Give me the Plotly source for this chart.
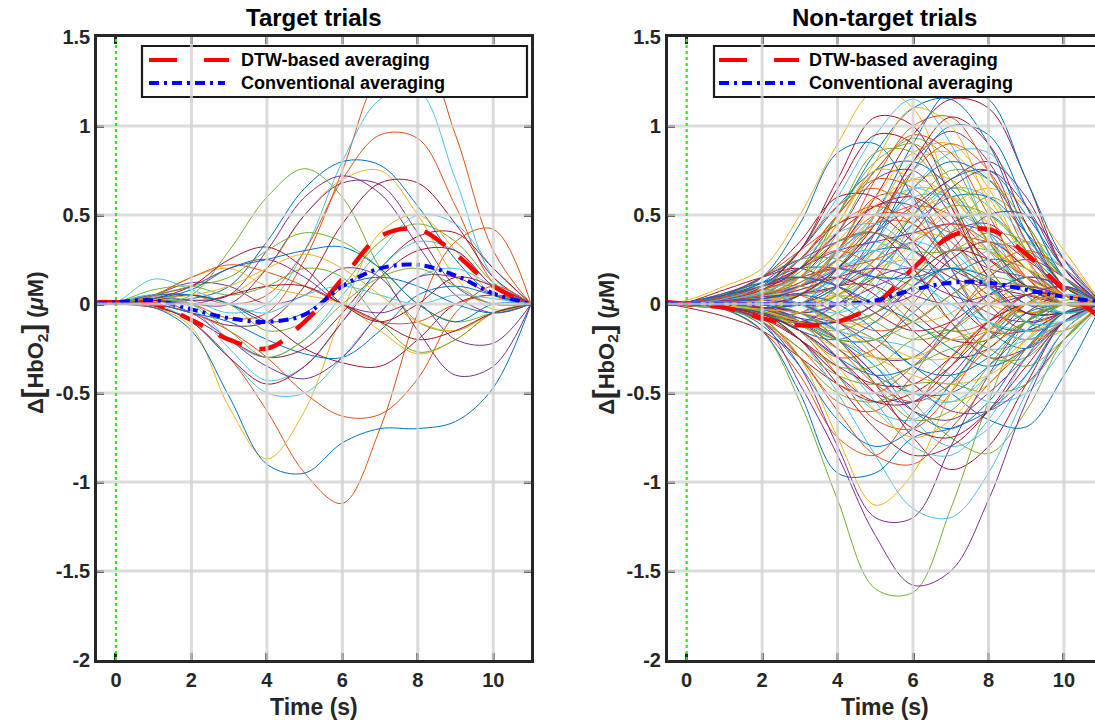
import plotly.graph_objects as go

# ---------------- data ----------------
time_s = [-0.5, 0, 1, 2, 3, 4, 5, 6, 7, 8, 9, 10, 11]

matlab_colors = ['#0072BD', '#D95319', '#EDB120', '#7E2F8E', '#77AC30', '#4DBEEE', '#A2142F']

target_trials = [
    [0, 0.01, 0.02, 0.0, -0.08, -0.05, 0.25, 0.75, 1.3, 1.45, 0.95, 0.3, 0.0],
    [0, 0.0, 0.03, 0.02, -0.05, 0.0, 0.3, 0.8, 1.15, 1.2, 0.7, 0.15, 0.0],
    [0, 0.01, 0.05, 0.05, 0.0, 0.05, 0.3, 0.7, 0.95, 0.93, 0.55, 0.12, 0.0],
    [0, 0.0, 0.02, 0.03, 0.1, 0.35, 0.65, 0.8, 0.78, 0.55, 0.25, 0.05, 0.0],
    [0, 0.0, 0.01, 0.05, 0.3, 0.6, 0.76, 0.6, 0.2, -0.1, -0.15, -0.05, 0.0],
    [0, 0.01, 0.03, 0.02, 0.05, 0.2, 0.5, 0.7, 0.75, 0.5, 0.15, -0.03, 0.0],
    [0, 0.0, 0.04, 0.02, 0.05, 0.3, 0.6, 0.72, 0.62, 0.33, 0.05, -0.05, 0.0],
    [0, 0.0, 0.02, 0.0, 0.0, 0.2, 0.5, 0.68, 0.67, 0.4, 0.1, 0.0, 0.0],
    [0, 0.0, 0.0, -0.05, -0.12, -0.1, 0.1, 0.45, 0.68, 0.68, 0.45, 0.15, 0.0],
    [0, 0.01, 0.05, 0.0, -0.2, -0.3, -0.2, 0.05, 0.3, 0.5, 0.45, 0.2, 0.0],
    [0, 0.0, 0.03, 0.05, 0.0, -0.15, -0.1, 0.1, 0.35, 0.45, 0.35, 0.12, 0.0],
    [0, 0.0, -0.02, -0.08, -0.2, -0.3, -0.25, -0.05, 0.2, 0.38, 0.4, 0.2, 0.0],
    [0, 0.0, -0.01, -0.1, -0.3, -0.6, -0.95, -1.12, -0.7, -0.05, 0.35, 0.42, 0.0],
    [0, 0.0, 0.0, -0.05, -0.15, -0.3, -0.5, -0.63, -0.62, -0.42, -0.05, 0.1, 0.0],
    [0, 0.0, -0.02, -0.13, -0.58, -0.87, -0.6, -0.05, 0.4, 0.5, 0.3, 0.05, 0.0],
    [0, 0.0, -0.02, -0.15, -0.52, -0.9, -0.95, -0.78, -0.7, -0.7, -0.66, -0.47, 0.0],
    [0, 0.0, 0.0, -0.1, -0.3, -0.5, -0.5, -0.3, -0.05, 0.15, 0.2, 0.1, 0.0],
    [0, 0.01, 0.05, -0.02, -0.25, -0.43, -0.35, -0.1, 0.2, 0.35, 0.3, 0.1, 0.0],
    [0, 0.0, -0.01, -0.1, -0.3, -0.45, -0.35, -0.1, 0.15, 0.3, 0.3, 0.1, 0.0],
    [0, 0.0, 0.02, -0.05, -0.2, -0.35, -0.42, -0.3, -0.05, 0.15, 0.15, 0.05, 0.0],
    [0, 0.0, 0.02, 0.05, 0.0, -0.1, -0.25, -0.33, -0.35, -0.2, 0.0, 0.05, 0.0],
    [0, 0.0, 0.0, -0.05, -0.1, -0.2, -0.28, -0.3, -0.15, 0.05, 0.1, 0.05, 0.0],
    [0, 0.0, 0.05, 0.12, 0.1, 0.0, 0.05, 0.2, 0.15, -0.15, -0.4, -0.35, 0.0],
    [0, 0.0, 0.05, 0.15, 0.2, 0.1, 0.05, 0.0, -0.15, -0.28, -0.2, -0.05, 0.0],
    [0, 0.01, 0.08, 0.1, 0.05, 0.1, 0.2, 0.15, -0.1, -0.27, -0.2, -0.05, 0.0],
    [0, 0.0, 0.05, 0.1, 0.2, 0.25, 0.15, 0.0, -0.05, 0.0, -0.2, -0.22, 0.0],
    [0, 0.0, 0.03, 0.1, 0.25, 0.32, 0.2, 0.0, -0.1, 0.0, 0.15, 0.1, 0.0],
    [0, 0.0, 0.05, 0.15, 0.22, 0.18, 0.1, 0.0, -0.1, -0.1, 0.0, 0.05, 0.0],
    [0, 0.01, 0.14, 0.08, 0.0, -0.05, 0.05, 0.1, 0.05, 0.0, 0.05, 0.03, 0.0],
    [0, 0.0, 0.03, 0.05, 0.1, 0.2, 0.28, 0.2, 0.05, -0.1, -0.15, -0.05, 0.0],
    [0, 0.0, 0.02, 0.0, -0.15, -0.3, -0.2, 0.0, 0.15, 0.2, 0.1, 0.0, 0.0],
    [0, 0.0, 0.05, 0.05, 0.0, -0.1, -0.05, 0.1, 0.15, 0.1, 0.0, -0.05, 0.0],
    [0, 0.0, 0.05, 0.1, 0.15, 0.3, 0.4, 0.35, 0.2, 0.0, -0.1, -0.05, 0.0],
    [0, 0.0, 0.03, 0.08, 0.2, 0.25, 0.3, 0.32, 0.2, 0.0, -0.1, 0.0, 0.0],
    [0, 0.0, 0.02, 0.0, 0.05, 0.1, 0.1, 0.0, -0.1, -0.2, -0.15, -0.05, 0.0],
]
target_colors = [1, 5, 1, 0, 4, 2, 3, 3, 6, 5, 4, 6, 1, 1, 2, 0, 5, 5, 6, 3,
                 6, 0, 3, 2, 4, 3, 6, 1, 5, 2, 4, 0, 4, 0, 6]

nontarget_trials = [
    [0, 0.02, 0.1, 0.2, 0.5, 0.9, 1.2, 1.1, 0.6, 0.1, -0.1, -0.05, 0],
    [0, 0.01, 0.05, 0.1, 0.3, 0.7, 1.05, 1.0, 0.6, 0.2, 0.0, 0.0, 0],
    [0, 0, 0.02, 0.05, 0.2, 0.5, 0.85, 1.1, 1.15, 0.9, 0.4, 0.1, 0],
    [0, 0, 0.0, 0.0, 0.1, 0.3, 0.6, 0.95, 1.15, 1.1, 0.7, 0.2, 0],
    [0, 0.01, 0.05, 0.15, 0.45, 0.85, 0.9, 0.6, 0.2, -0.1, -0.15, -0.05, 0],
    [0, 0, 0.02, 0.05, 0.1, 0.4, 0.75, 0.93, 0.8, 0.4, 0.05, -0.05, 0],
    [0, 0, 0.0, -0.05, -0.05, 0.1, 0.4, 0.8, 0.97, 0.8, 0.35, 0.05, 0],
    [0, 0, 0.03, 0.08, 0.2, 0.45, 0.8, 1.1, 1.0, 0.55, 0.1, -0.05, 0],
    [0, 0, 0.01, 0.0, 0.0, 0.2, 0.5, 0.9, 1.2, 1.15, 0.7, 0.25, 0],
    [0, 0.01, 0.04, 0.1, 0.3, 0.6, 0.95, 1.15, 0.9, 0.4, 0.05, -0.05, 0],
    [0, 0, 0.0, 0.02, 0.1, 0.3, 0.7, 1.0, 1.05, 0.75, 0.3, 0.05, 0],
    [0, 0, 0.02, 0.05, 0.15, 0.5, 0.85, 0.85, 0.55, 0.2, 0.0, 0.0, 0],
    [0, 0, 0.03, 0.1, 0.3, 0.55, 0.65, 0.5, 0.25, 0.05, -0.05, 0.0, 0],
    [0, 0, 0.0, 0.0, 0.05, 0.25, 0.5, 0.7, 0.7, 0.45, 0.15, 0.0, 0],
    [0, 0.01, 0.05, 0.1, 0.2, 0.4, 0.7, 0.75, 0.5, 0.15, -0.1, -0.05, 0],
    [0, 0, 0.02, 0.02, 0.0, 0.1, 0.3, 0.55, 0.75, 0.7, 0.45, 0.15, 0],
    [0, 0, -0.02, -0.05, 0.0, 0.15, 0.4, 0.6, 0.6, 0.4, 0.2, 0.05, 0],
    [0, 0.01, 0.06, 0.15, 0.35, 0.6, 0.6, 0.35, 0.05, -0.15, -0.15, -0.05, 0],
    [0, 0, 0.0, 0.0, -0.05, 0.0, 0.2, 0.5, 0.7, 0.75, 0.5, 0.2, 0],
    [0, 0, 0.03, 0.08, 0.25, 0.5, 0.7, 0.65, 0.4, 0.1, -0.05, 0.0, 0],
    [0, 0, 0.01, 0.0, 0.05, 0.2, 0.45, 0.65, 0.6, 0.35, 0.1, 0.0, 0],
    [0, 0, 0.02, 0.05, 0.1, 0.3, 0.55, 0.55, 0.35, 0.2, 0.15, 0.05, 0],
    [0, 0.01, 0.04, 0.05, 0.0, 0.05, 0.25, 0.5, 0.65, 0.55, 0.3, 0.1, 0],
    [0, 0, 0.0, -0.03, -0.1, -0.1, 0.1, 0.45, 0.65, 0.6, 0.35, 0.1, 0],
    [0, 0, 0.02, 0.1, 0.25, 0.45, 0.5, 0.35, 0.2, 0.1, 0.05, 0.0, 0],
    [0, 0, 0.01, 0.02, 0.05, 0.1, 0.25, 0.45, 0.6, 0.6, 0.4, 0.15, 0],
    [0, 0, 0.05, 0.15, 0.3, 0.45, 0.55, 0.45, 0.25, 0.05, -0.05, -0.05, 0],
    [0, 0, 0.0, 0.0, 0.0, 0.05, 0.15, 0.35, 0.55, 0.65, 0.55, 0.3, 0],
    [0, 0.01, 0.05, 0.1, 0.15, 0.2, 0.15, 0.05, 0.0, 0.05, 0.1, 0.05, 0],
    [0, 0, 0.02, 0.0, -0.1, -0.15, -0.05, 0.15, 0.3, 0.3, 0.15, 0.05, 0],
    [0, 0, -0.02, -0.05, -0.1, 0.0, 0.2, 0.35, 0.25, 0.0, -0.15, -0.1, 0],
    [0, 0.01, 0.08, 0.15, 0.2, 0.1, -0.05, -0.15, -0.1, 0.05, 0.15, 0.1, 0],
    [0, 0, 0.03, 0.05, 0.05, 0.15, 0.3, 0.3, 0.1, -0.15, -0.25, -0.1, 0],
    [0, 0, 0.0, -0.05, -0.15, -0.3, -0.25, 0.0, 0.25, 0.35, 0.2, 0.05, 0],
    [0, 0, 0.02, 0.05, 0.0, -0.1, -0.1, 0.05, 0.2, 0.15, -0.05, -0.1, 0],
    [0, -0.01, -0.03, -0.08, -0.1, 0.0, 0.15, 0.2, 0.1, -0.05, -0.1, -0.05, 0],
    [0, 0, 0.05, 0.12, 0.15, 0.05, -0.1, -0.2, -0.15, 0.0, 0.1, 0.05, 0],
    [0, 0, 0.02, 0.03, 0.1, 0.25, 0.35, 0.2, -0.05, -0.25, -0.2, -0.05, 0],
    [0, 0, 0.0, -0.02, 0.0, 0.1, 0.1, -0.05, -0.2, -0.2, 0.0, 0.1, 0],
    [0, 0.01, 0.04, 0.0, -0.1, -0.2, -0.2, -0.05, 0.15, 0.25, 0.2, 0.05, 0],
    [0, 0, 0.03, 0.1, 0.2, 0.3, 0.2, 0.0, -0.15, -0.1, 0.05, 0.05, 0],
    [0, 0, -0.01, -0.05, -0.05, 0.05, 0.25, 0.4, 0.35, 0.1, -0.1, -0.1, 0],
    [0, 0, 0.02, 0.0, -0.05, 0.0, 0.1, 0.2, 0.4, 0.45, 0.25, 0.0, 0],
    [0, 0, 0.05, 0.1, 0.1, 0.05, 0.0, 0.1, 0.2, 0.1, -0.1, -0.15, 0],
    [0, -0.01, -0.02, 0.0, 0.1, 0.2, 0.3, 0.4, 0.3, 0.1, -0.05, -0.05, 0],
    [0, 0, 0.03, 0.05, 0.15, 0.35, 0.4, 0.2, -0.1, -0.3, -0.25, -0.1, 0],
    [0, 0, 0.0, -0.03, -0.08, -0.1, 0.0, 0.2, 0.45, 0.5, 0.3, 0.05, 0],
    [0, 0, 0.04, 0.08, 0.05, -0.05, -0.15, -0.1, 0.05, 0.2, 0.3, 0.2, 0],
    [0, 0, 0.01, 0.02, 0.05, 0.1, 0.2, 0.25, 0.15, 0.0, -0.05, 0.0, 0],
    [0, 0, 0.02, 0.0, -0.05, -0.15, -0.3, -0.3, -0.1, 0.15, 0.25, 0.15, 0],
    [0, 0, 0.05, 0.15, 0.25, 0.25, 0.1, -0.1, -0.2, -0.15, 0.0, 0.05, 0],
    [0, 0, 0.0, 0.0, 0.0, -0.05, 0.05, 0.3, 0.5, 0.4, 0.1, -0.05, 0],
    [0, 0.01, 0.03, 0.05, 0.1, 0.15, 0.05, -0.15, -0.3, -0.25, -0.05, 0.05, 0],
    [0, 0, -0.02, -0.05, -0.15, -0.2, -0.1, 0.1, 0.2, 0.1, -0.05, -0.05, 0],
    [0, 0, 0.02, 0.06, 0.1, 0.25, 0.45, 0.45, 0.2, -0.1, -0.2, -0.1, 0],
    [0, 0, 0.01, 0.0, 0.0, 0.05, 0.0, -0.1, -0.05, 0.15, 0.35, 0.25, 0],
    [0, 0, 0.03, 0.1, 0.15, 0.1, 0.0, 0.05, 0.25, 0.35, 0.2, 0.0, 0],
    [0, 0, -0.02, -0.06, -0.05, 0.05, 0.15, 0.1, -0.1, -0.3, -0.3, -0.1, 0],
    [0, 0, -0.02, -0.1, -0.3, -0.55, -0.6, -0.4, -0.1, 0.1, 0.1, 0.0, 0],
    [0, 0, 0.0, -0.05, -0.2, -0.4, -0.6, -0.65, -0.45, -0.2, 0.0, 0.05, 0],
    [0, 0, -0.03, -0.15, -0.4, -0.75, -0.85, -0.6, -0.3, -0.1, 0.0, 0.0, 0],
    [0, 0, 0.0, -0.02, -0.05, -0.2, -0.45, -0.75, -0.93, -0.8, -0.45, -0.1, 0],
    [0, 0, 0.02, 0.0, -0.1, -0.25, -0.4, -0.5, -0.5, -0.35, -0.15, 0.0, 0],
    [0, 0, 0.0, 0.0, 0.0, -0.1, -0.3, -0.55, -0.75, -0.84, -0.6, -0.2, 0],
    [0, 0, -0.01, -0.05, -0.1, -0.2, -0.4, -0.65, -0.8, -0.7, -0.4, -0.1, 0],
    [0, 0, 0.02, 0.05, 0.0, -0.1, -0.2, -0.35, -0.5, -0.65, -0.69, -0.4, 0],
    [0, -0.02, -0.07, -0.15, -0.3, -0.45, -0.55, -0.5, -0.35, -0.15, 0.0, 0.0, 0],
    [0, 0, -0.02, -0.1, -0.25, -0.45, -0.5, -0.35, -0.15, 0.0, 0.05, 0.0, 0],
    [0, 0, 0.0, -0.05, -0.1, -0.15, -0.25, -0.45, -0.55, -0.45, -0.2, 0.0, 0],
    [0, 0, 0.01, 0.0, -0.1, -0.3, -0.5, -0.55, -0.4, -0.15, 0.05, 0.05, 0],
    [0, 0, -0.01, -0.05, -0.2, -0.35, -0.35, -0.2, -0.15, -0.25, -0.35, -0.2, 0],
    [0, 0, 0.02, 0.0, -0.05, -0.15, -0.2, -0.25, -0.4, -0.55, -0.5, -0.25, 0],
    [0, 0, -0.02, -0.08, -0.2, -0.35, -0.45, -0.45, -0.3, -0.1, 0.0, 0.0, 0],
    [0, 0, 0.0, -0.03, -0.1, -0.2, -0.35, -0.6, -0.7, -0.55, -0.25, -0.05, 0],
    [0, 0, 0.01, -0.02, -0.15, -0.4, -0.65, -0.7, -0.5, -0.2, 0.0, 0.05, 0],
    [0, 0, -0.01, -0.06, -0.12, -0.25, -0.3, -0.3, -0.2, -0.15, -0.2, -0.15, 0],
    [0, 0, 0.02, 0.02, 0.0, -0.1, -0.25, -0.45, -0.6, -0.6, -0.45, -0.2, 0],
    [0, 0, -0.02, -0.1, -0.3, -0.5, -0.55, -0.45, -0.45, -0.5, -0.45, -0.2, 0],
    [0, 0, -0.03, -0.15, -0.55, -1.1, -1.6, -1.62, -1.15, -0.55, -0.1, 0.02, 0],
    [0, 0, -0.02, -0.1, -0.45, -0.85, -1.3, -1.58, -1.5, -1.1, -0.55, -0.15, 0],
    [0, 0, -0.02, -0.1, -0.35, -0.8, -1.2, -1.2, -0.8, -0.4, -0.1, 0.0, 0],
    [0, 0, 0.0, -0.05, -0.2, -0.5, -0.85, -1.15, -1.2, -0.95, -0.5, -0.15, 0],
    [0, 0, -0.02, -0.08, -0.3, -0.75, -1.13, -0.95, -0.5, -0.15, 0.0, 0.0, 0],
    [0, 0, -0.03, -0.15, -0.5, -0.95, -0.95, -0.75, -0.7, -0.6, -0.4, -0.1, 0],
    [0, 0, -0.01, -0.08, -0.3, -0.6, -0.85, -0.9, -0.7, -0.45, -0.25, -0.05, 0],
    [0, 0, 0.0, -0.05, -0.2, -0.45, -0.7, -0.85, -0.8, -0.6, -0.3, -0.05, 0],
    [0, 0, -0.02, -0.12, -0.35, -0.65, -0.8, -0.7, -0.45, -0.2, -0.05, 0.0, 0],
    [0, 0, 0.01, 0.0, -0.1, -0.3, -0.55, -0.8, -0.85, -0.65, -0.3, -0.05, 0],
    [0, 0, -0.01, -0.04, -0.15, -0.35, -0.6, -0.75, -0.65, -0.4, -0.2, -0.05, 0],
    [0, 0.01, 0.05, 0.12, 0.3, 0.55, 0.75, 0.8, 0.65, 0.35, 0.1, 0.0, 0],
    [0, 0, 0.0, 0.02, 0.1, 0.3, 0.5, 0.5, 0.4, 0.35, 0.3, 0.15, 0],
    [0, 0, 0.02, 0.05, 0.15, 0.35, 0.6, 0.85, 0.9, 0.65, 0.25, 0.0, 0],
    [0, 0, 0.03, 0.1, 0.2, 0.3, 0.35, 0.4, 0.45, 0.4, 0.25, 0.1, 0],
    [0, 0, 0.01, 0.05, 0.2, 0.5, 0.8, 0.9, 0.7, 0.35, 0.05, -0.05, 0],
    [0, 0, 0.0, 0.0, 0.05, 0.15, 0.35, 0.65, 0.85, 0.85, 0.55, 0.15, 0],
    [0, 0, 0.02, 0.1, 0.3, 0.65, 0.95, 0.9, 0.55, 0.15, -0.05, -0.05, 0],
    [0, 0, 0.0, -0.02, 0.0, 0.1, 0.35, 0.75, 1.0, 0.95, 0.55, 0.15, 0],
    [0, 0, 0.03, 0.08, 0.15, 0.3, 0.45, 0.55, 0.5, 0.3, 0.15, 0.05, 0],
    [0, 0, 0.02, 0.03, 0.05, 0.2, 0.5, 0.8, 0.85, 0.6, 0.25, 0.05, 0],
    [0, 0, 0.05, 0.15, 0.25, 0.35, 0.4, 0.3, 0.15, 0.1, 0.1, 0.05, 0],
    [0, 0, 0.0, -0.05, -0.1, -0.05, 0.15, 0.4, 0.55, 0.5, 0.3, 0.1, 0],
    [0, 0, 0.02, 0.05, 0.1, 0.2, 0.25, 0.2, 0.2, 0.3, 0.35, 0.2, 0],
    [0, 0, -0.01, -0.05, -0.1, -0.1, 0.0, 0.15, 0.3, 0.25, 0.1, 0.0, 0],
    [0, 0, 0.04, 0.12, 0.2, 0.2, 0.15, 0.15, 0.2, 0.15, 0.0, -0.05, 0],
    [0, 0, 0.01, 0.0, 0.05, 0.3, 0.6, 0.6, 0.3, 0.0, -0.15, -0.1, 0],
    [0, 0, 0.02, 0.04, 0.08, 0.15, 0.3, 0.5, 0.6, 0.45, 0.2, 0.05, 0],
    [0, 0, 0.0, 0.0, -0.05, -0.1, -0.05, 0.1, 0.3, 0.5, 0.5, 0.25, 0],
    [0, 0, 0.03, 0.06, 0.0, -0.1, -0.05, 0.15, 0.4, 0.6, 0.45, 0.1, 0],
    [0, 0, 0.01, 0.02, 0.1, 0.25, 0.3, 0.15, 0.0, -0.1, -0.15, -0.1, 0],
    [0, 0, 0.02, 0.08, 0.2, 0.4, 0.55, 0.6, 0.45, 0.25, 0.1, 0.0, 0],
    [0, 0, -0.01, -0.03, 0.05, 0.2, 0.4, 0.65, 0.8, 0.7, 0.4, 0.1, 0],
    [0, 0.01, 0.04, 0.1, 0.25, 0.5, 0.75, 0.95, 0.85, 0.5, 0.15, 0.0, 0],
    [0, 0, 0.0, 0.02, 0.15, 0.45, 0.75, 0.7, 0.45, 0.3, 0.2, 0.1, 0],
    [0, 0, 0.03, 0.05, 0.1, 0.2, 0.4, 0.55, 0.7, 0.8, 0.6, 0.2, 0],
    [0, 0, 0.02, 0.06, 0.18, 0.35, 0.4, 0.3, 0.3, 0.4, 0.35, 0.15, 0],
    [0, 0, 0.01, 0.04, 0.12, 0.28, 0.5, 0.65, 0.55, 0.3, 0.05, -0.05, 0],
    [0, 0, 0.0, 0.0, 0.05, 0.2, 0.45, 0.8, 1.05, 0.9, 0.45, 0.1, 0],
    [0, 0, -0.02, -0.05, -0.15, -0.3, -0.4, -0.35, -0.15, 0.05, 0.15, 0.1, 0],
    [0, 0, 0.01, -0.02, -0.1, -0.25, -0.45, -0.55, -0.45, -0.25, -0.1, 0.0, 0],
    [0, 0, -0.01, -0.04, -0.1, -0.2, -0.3, -0.4, -0.45, -0.4, -0.25, -0.1, 0],
    [0, 0, 0.0, -0.02, -0.08, -0.2, -0.4, -0.6, -0.65, -0.5, -0.3, -0.1, 0],
    [0, -0.01, -0.03, -0.1, -0.25, -0.4, -0.45, -0.35, -0.25, -0.2, -0.1, 0.0, 0],
    [0, 0, 0.02, 0.05, 0.0, -0.15, -0.35, -0.5, -0.55, -0.4, -0.15, 0.05, 0],
    [0, 0, -0.02, -0.06, -0.15, -0.3, -0.5, -0.7, -0.75, -0.6, -0.35, -0.1, 0],
    [0, 0, 0.01, 0.03, 0.05, 0.0, -0.15, -0.35, -0.4, -0.3, -0.1, 0.0, 0],
    [0, 0, 0.03, 0.08, 0.15, 0.2, 0.25, 0.35, 0.45, 0.35, 0.15, 0.0, 0],
    [0, 0, -0.01, 0.0, 0.1, 0.3, 0.55, 0.7, 0.6, 0.35, 0.15, 0.05, 0],
    [0, 0, 0.02, 0.04, 0.06, 0.1, 0.2, 0.4, 0.65, 0.75, 0.55, 0.2, 0],
    [0, 0, 0.0, -0.04, -0.12, -0.2, -0.2, -0.1, 0.05, 0.15, 0.1, 0.0, 0],
    [0, 0, 0.02, 0.07, 0.15, 0.3, 0.45, 0.5, 0.35, 0.1, -0.1, -0.1, 0],
    [0, 0, -0.02, -0.07, -0.2, -0.4, -0.55, -0.55, -0.35, -0.1, 0.05, 0.05, 0],
    [0, 0.01, 0.06, 0.12, 0.15, 0.1, 0.0, -0.1, -0.25, -0.35, -0.25, -0.05, 0],
    [0, 0, 0.01, 0.05, 0.12, 0.25, 0.45, 0.75, 0.9, 0.75, 0.35, 0.05, 0],
    [0, 0, -0.01, -0.03, -0.05, -0.1, -0.2, -0.3, -0.3, -0.15, 0.0, 0.05, 0],
    [0, 0, 0.02, 0.03, 0.08, 0.15, 0.2, 0.15, 0.05, 0.0, 0.05, 0.1, 0],
    [0, 0, 0.0, 0.0, -0.05, -0.2, -0.45, -0.65, -0.6, -0.35, -0.1, 0.0, 0],
    [0, 0, 0.03, 0.1, 0.25, 0.4, 0.45, 0.3, 0.1, -0.1, -0.2, -0.1, 0],
]
nontarget_colors = [2, 6, 0, 6, 0, 4, 3, 2, 0, 5, 1, 4,
                    1, 2, 3, 4, 5, 6, 0, 1, 2, 3, 4, 5, 6, 0, 1, 2,
                    3, 4, 5, 6, 0, 1, 2, 3, 4, 5, 6, 0, 1, 2, 3, 4, 5, 6, 0, 1, 2, 3, 4, 5, 6, 0, 1, 2, 3, 4,
                    1, 5, 1, 6, 0, 4, 5, 0, 6, 1, 2, 3, 4, 5, 6, 0, 1, 2, 3, 4,
                    4, 3, 3, 5, 2, 0, 1, 6, 0, 5, 2,
                    0, 1, 2, 3, 4, 5, 6, 0, 1, 2, 3, 4, 5, 6, 0, 1, 2, 3, 4, 5,
                    6, 0, 1, 2, 3, 4, 5, 6, 0, 1, 2, 3, 4, 5, 6, 0, 1, 2, 3, 4, 5, 6, 0, 1, 2, 3, 4, 5]

dtw_target = [0.01, 0.01, 0.0, -0.09, -0.2, -0.25, -0.1, 0.14, 0.38, 0.42, 0.28, 0.1, 0.0]
conv_target = [0.0, 0.01, 0.02, -0.03, -0.08, -0.1, -0.06, 0.1, 0.2, 0.22, 0.16, 0.06, 0.0]
dtw_nontarget = [0.01, 0.0, -0.02, -0.08, -0.12, -0.1, 0.0, 0.2, 0.38, 0.42, 0.28, 0.08, -0.08]
conv_nontarget = [0.0, 0.0, 0.0, 0.0, 0.0, 0.0, 0.02, 0.08, 0.12, 0.12, 0.08, 0.04, 0.01]

x_ticks = [0, 2, 4, 6, 8, 10]
y_ticks = [-2, -1.5, -1, -0.5, 0, 0.5, 1, 1.5]
y_tick_labels = ['-2', '-1.5', '-1', '-0.5', '0', '0.5', '1', '1.5']
grid_x = [2, 4, 6, 8, 10]
grid_y = [-1.5, -1, -0.5, 0, 0.5, 1]

panel_titles = ['Target trials', 'Non-target trials']
legend_labels = ['DTW-based averaging', 'Conventional averaging']
x_title = 'Time (s)'
y_title = ('\u0394<span style="font-size:29px">[</span>HbO<sub>2</sub>'
           '<span style="font-size:29px">]</span> (<i>\u03bc</i>M)')

# ---------------- layout geometry (pixels) ----------------
W, H = 1095, 722
FONT = 'Liberation Sans, Arial, Helvetica, sans-serif'
AX = '#262626'


def px(x):
    return x / W


def py(y):
    return 1 - y / H


panels = [
    dict(xa='x', ya='y', x0=97.1, x1=531.0, xr=[-0.5, 11.0],
         trials=target_trials, colors=target_colors, dtw=dtw_target, conv=conv_target,
         leg_x0=142, leg_x1=527, samp_x0=149, samp_x1=229, samp_b1=225, text_x=239),
    dict(xa='x2', ya='y2', x0=667.8, x1=1095.0, xr=[-0.5, -0.5 + (1095 - 667.8) / 37.73],
         trials=nontarget_trials, colors=nontarget_colors, dtw=dtw_nontarget, conv=conv_nontarget,
         leg_x0=714, leg_x1=1098, samp_x0=719, samp_x1=799, samp_b1=795, text_x=807),
]
plot_top, plot_bot = 37.0, 660.0

fig = go.Figure()
shapes = []
annotations = []

for k, p in enumerate(panels):
    for vals, ci in zip(p['trials'], p['colors']):
        fig.add_trace(go.Scatter(x=time_s, y=vals, mode='lines', xaxis=p['xa'], yaxis=p['ya'],
                                 line=dict(color=matlab_colors[ci], width=1, shape='spline'),
                                 showlegend=False, hoverinfo='skip'))
    fig.add_trace(go.Scatter(x=time_s, y=p['dtw'], mode='lines', xaxis=p['xa'], yaxis=p['ya'],
                             name=legend_labels[0],
                             line=dict(color='#FF0000', width=4.5, dash='25px,18px', shape='spline'),
                             showlegend=False, hoverinfo='skip'))
    fig.add_trace(go.Scatter(x=time_s, y=p['conv'], mode='lines', xaxis=p['xa'], yaxis=p['ya'],
                             name=legend_labels[1],
                             line=dict(color='#0000FF', width=4, dash='10px,5px,3px,5px', shape='spline'),
                             showlegend=False, hoverinfo='skip'))

    xref, yref = p['xa'], p['ya']
    grid_line = dict(color='rgba(210,210,210,0.8)', width=3)
    # grid drawn on top of the data (as in the MATLAB figure)
    for gx in grid_x:
        if gx == 2:
            continue
        shapes.append(dict(type='line', xref=xref, yref=yref + ' domain', x0=gx, x1=gx, y0=0, y1=1,
                           line=grid_line, layer='above'))
    for gy in grid_y:
        shapes.append(dict(type='line', xref=xref + ' domain', yref=yref, x0=0, x1=1, y0=gy, y1=gy,
                           line=grid_line, layer='above'))
    # green onset marker at t = 0
    shapes.append(dict(type='line', xref=xref, yref=yref + ' domain', x0=0, x1=0, y0=0, y1=1,
                       line=dict(color='#22EE22', width=2.2, dash='dot'), layer='above'))
    # legend box
    shapes.append(dict(type='rect', xref='paper', yref='paper',
                       x0=px(p['leg_x0']), x1=px(p['leg_x1']), y0=py(97), y1=py(46),
                       line=dict(color='#1a1a1a', width=2.2), fillcolor='white', layer='above'))
    shapes.append(dict(type='line', xref='paper', yref='paper',
                       x0=px(p['samp_x0']), x1=px(p['samp_x1']), y0=py(60), y1=py(60),
                       line=dict(color='#FF0000', width=4, dash='28px,27px'), layer='above'))
    shapes.append(dict(type='line', xref='paper', yref='paper',
                       x0=px(p['samp_x0']), x1=px(p['samp_b1']), y0=py(83), y1=py(83),
                       line=dict(color='#0000FF', width=4, dash='10px,5px,3px,5px'), layer='above'))
    # grid line at t = 2 lies above the legend in the reference
    shapes.append(dict(type='line', xref=xref, yref=yref + ' domain', x0=2, x1=2, y0=0, y1=1,
                       line=grid_line, layer='above'))

    for j, lab in enumerate(legend_labels):
        annotations.append(dict(xref='paper', yref='paper', x=px(p['text_x']), y=py([60, 83][j]),
                                text=lab, showarrow=False, xanchor='left', yanchor='middle',
                                font=dict(family=FONT, size=18, color='#000000', weight='bold')))

    cx = (p['x0'] + (531.0 if k == 0 else 1101.7)) / 2
    annotations.append(dict(xref='paper', yref='paper', x=px(cx), y=py(18), text=panel_titles[k],
                            showarrow=False, xanchor='center', yanchor='middle',
                            font=dict(family=FONT, size=24, color='#000000', weight='bold')))
    annotations.append(dict(xref='paper', yref='paper', x=px(cx), y=py(707), text=x_title,
                            showarrow=False, xanchor='center', yanchor='middle',
                            font=dict(family=FONT, size=23, color='#262626', weight='bold')))
    annotations.append(dict(xref='paper', yref='paper', x=px(p['x0'] - 63), y=py(343), text=y_title,
                            textangle=-90, showarrow=False, xanchor='center', yanchor='middle',
                            font=dict(family=FONT, size=22, color='#262626', weight='bold')))

axis_common = dict(showgrid=False, zeroline=False, showline=True, linecolor=AX, linewidth=2.7,
                   ticks='inside', ticklen=7, tickwidth=2.5, tickcolor=AX,
                   tickfont=dict(family=FONT, size=20, color='#262626', weight='bold'),
                   automargin=False, fixedrange=True)

ydom = [py(plot_bot), py(plot_top)]
fig.update_layout(
    width=W, height=H, autosize=False,
    margin=dict(l=0, r=0, t=0, b=0, pad=0),
    paper_bgcolor='white', plot_bgcolor='white',
    showlegend=False, hovermode=False,
    xaxis=dict(domain=[px(panels[0]['x0']), px(panels[0]['x1'])], range=panels[0]['xr'],
               tickvals=x_ticks, anchor='y', mirror='ticks', **axis_common),
    yaxis=dict(domain=ydom, range=[-2, 1.5], tickvals=y_ticks, ticktext=y_tick_labels,
               anchor='x', mirror='ticks', **axis_common),
    xaxis2=dict(domain=[px(panels[1]['x0']), 1.0], range=panels[1]['xr'],
                tickvals=x_ticks, anchor='y2', mirror='ticks', **axis_common),
    yaxis2=dict(domain=ydom, range=[-2, 1.5], tickvals=y_ticks, ticktext=y_tick_labels,
                anchor='x2', mirror=False, **axis_common),
    shapes=shapes,
    annotations=annotations,
)

fig.write_html('out.html', config={'displayModeBar': False},
               post_script="document.body.style.margin='0px';document.body.style.overflow='hidden';")
